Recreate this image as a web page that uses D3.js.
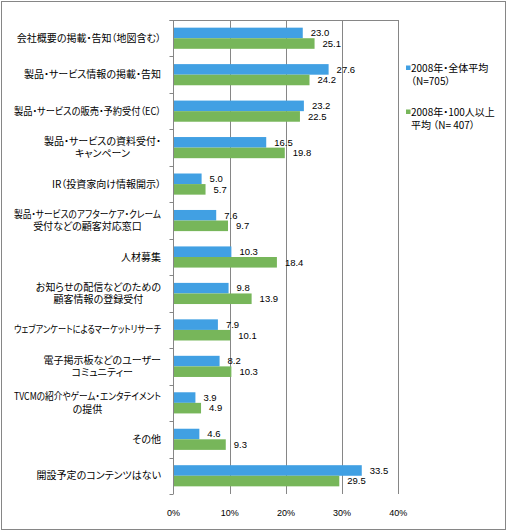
<!DOCTYPE html>
<html><head><meta charset="utf-8">
<script src="https://cdn.jsdelivr.net/npm/d3@7/dist/d3.min.js"></script>
<style>
html,body{margin:0;padding:0;background:#fff;}
svg{display:block;font-family:"Noto Sans CJK JP","Noto Sans",sans-serif;}
.jp{font-feature-settings:"palt" 1;}
</style></head>
<body>
<svg id="chart" width="507" height="532"></svg>
<script>
const categories = [
  "会社概要の掲載・告知（地図含む）",
  "製品・サービス情報の掲載・告知",
  "製品・サービスの販売・予約受付（EC）",
  "製品・サービスの資料受付・\nキャンペーン",
  "IR（投資家向け情報開示）",
  "製品・サービスのアフターケア・クレーム\n受付などの顧客対応窓口",
  "人材募集",
  "お知らせの配信などのための\n顧客情報の登録受付",
  "ウェブアンケートによるマーケットリサーチ",
  "電子掲示板などのユーザー\nコミュニティー",
  "TVCMの紹介やゲーム・エンタテイメント\nの提供",
  "その他",
  "開設予定のコンテンツはない"
];
const seriesNames = [["2008年・全体平均", "（N=705）"], ["2008年・100人以上", "平均 （N= 407）"]];
const allAvg = [23.0, 27.6, 23.2, 16.5, 5.0, 7.6, 10.3, 9.8, 7.9, 8.2, 3.9, 4.6, 33.5];
const over100 = [25.1, 24.2, 22.5, 19.8, 5.7, 9.7, 18.4, 13.9, 10.1, 10.3, 4.9, 9.3, 29.5];
const xTicks = [0, 10, 20, 30, 40];
const colors = ["#41A0E3", "#77B65A"];

(function () {
const svg = d3.select("#chart");
const gridColor = "#868686";

// outer border
svg.append("rect").attr("x", 1.5).attr("y", 1.5).attr("width", 504).attr("height", 528)
  .attr("fill", "none").attr("stroke", gridColor).attr("stroke-width", 1);

const pLeft = 173.5, pRight = 398.3, pTop = 20, pBottom = 494;
const x = d3.scaleLinear().domain([0, 40]).range([pLeft, pRight]);
const y = d3.scaleBand().domain(d3.range(categories.length)).range([pTop, pBottom]).paddingInner(0.42).paddingOuter(0.21);
const sub = d3.scaleBand().domain([0, 1]).range([0, y.bandwidth()]);

// gridlines
svg.append("g").selectAll("line").data(xTicks.slice(1)).join("line")
  .attr("x1", d => Math.round(x(d)) + 0.5).attr("x2", d => Math.round(x(d)) + 0.5)
  .attr("y1", pTop).attr("y2", pBottom)
  .attr("stroke", gridColor).attr("stroke-width", 1);
// top border line of plot
svg.append("line").attr("x1", pLeft - 4).attr("x2", Math.round(pRight) + 0.5)
  .attr("y1", pTop + 0.5).attr("y2", pTop + 0.5).attr("stroke", gridColor);

// bars
const series = [allAvg, over100];
series.forEach((vals, si) => {
  const g = svg.append("g");
  g.selectAll("rect").data(vals).join("rect")
    .attr("x", x(0))
    .attr("y", (d, i) => y(i) + sub(si))
    .attr("width", d => x(d) - x(0))
    .attr("height", sub.bandwidth())
    .attr("fill", colors[si]);
  g.selectAll("text").data(vals).join("text")
    .attr("x", d => x(d) + 8)
    .attr("y", (d, i) => y(i) + sub(si) + sub.bandwidth() / 2)
    .attr("dy", "0.35em")
    .attr("font-size", 9.5)
    .attr("font-family", "'Liberation Sans', Arial, sans-serif")
    .attr("fill", "#000")
    .text(d => d.toFixed(1));
});

// category axis
const step = (pBottom - pTop) / categories.length;
svg.append("line").attr("x1", pLeft).attr("x2", pLeft).attr("y1", pTop).attr("y2", pBottom)
  .attr("stroke", gridColor);
svg.append("g").selectAll("line").data(d3.range(categories.length + 1)).join("line")
  .attr("x1", pLeft - 4).attr("x2", pLeft)
  .attr("y1", i => Math.round(pTop + i * step) + 0.5).attr("y2", i => Math.round(pTop + i * step) + 0.5)
  .attr("stroke", gridColor);

// category labels (each line is its own text element)
const labelRight = 161, maxLine = 147, lh = 12.5;
categories.forEach((c, i) => {
  const lines = c.split("\n");
  const cy = y(i) + y.bandwidth() / 2;
  const ts = lines.map((ln, k) => {
    const t = svg.append("text").attr("class", "jp").attr("font-size", 10).attr("fill", "#000")
      .attr("y", cy + (k - (lines.length - 1) / 2) * lh).attr("dy", "0.35em").text(ln);
    let w = t.node().getComputedTextLength();
    if (w > maxLine) {
      t.attr("textLength", maxLine).attr("lengthAdjust", "spacingAndGlyphs");
      w = maxLine;
    }
    return { t, w };
  });
  if (lines.length === 1) {
    ts[0].t.attr("text-anchor", "end").attr("x", labelRight);
  } else {
    const maxW = d3.max(ts, d => d.w);
    ts.forEach(d => d.t.attr("text-anchor", "middle").attr("x", labelRight - maxW / 2));
  }
});

// x axis labels
svg.append("g").selectAll("text").data(xTicks).join("text")
  .attr("x", d => x(d)).attr("y", 513).attr("dy", "0.35em")
  .attr("text-anchor", "middle").attr("font-size", 9)
  .attr("font-family", "'Liberation Sans', Arial, sans-serif")
  .text(d => d + "%");

// legend
const legY = [68, 112];
seriesNames.forEach((nm, si) => {
  svg.append("rect").attr("x", 406).attr("y", legY[si] - 2.5).attr("width", 4.5).attr("height", 4.5)
    .attr("fill", colors[si]);
  nm.forEach((ln, k) => {
    svg.append("text").attr("class", "jp").attr("font-size", 10).attr("fill", "#000")
      .attr("x", 411).attr("y", legY[si] + k * 13).attr("dy", "0.35em").text(ln);
  });
});
})();
</script>
</body></html>
